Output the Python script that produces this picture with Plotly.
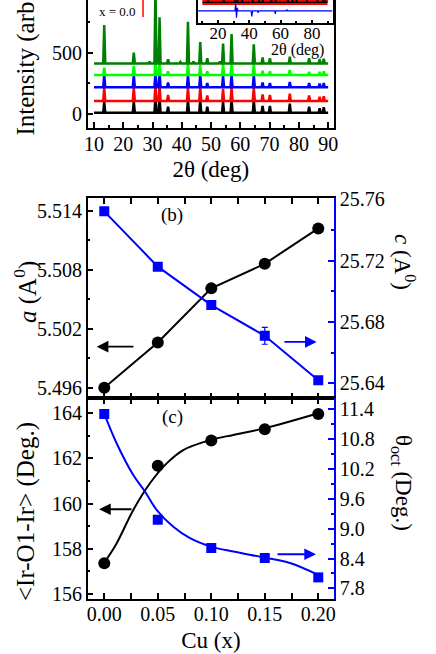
import plotly.graph_objects as go

# %% XRD data
peak_pos = [13.5, 23.6, 29.0, 31.0, 32.4, 35.3, 39.5, 42.1, 44.0, 46.3, 48.7,
            53.0, 54.1, 57.0, 64.6, 67.6, 70.1, 76.9, 83.5, 87.1, 88.5]
h_x000 = [89, 89, 0, 125, 118, 50, 0, 100, 0, 100, 50, 0, 89, 105, 100, 56, 56, 75, 50, 37, 45]
h_x005 = [112, 112, 0, 130, 130, 50, 0, 112, 0, 112, 45, 0, 100, 112, 112, 55, 50, 60, 45, 35, 40]
h_x010 = [105, 100, 0, 120, 120, 40, 0, 105, 0, 100, 35, 0, 95, 105, 100, 40, 35, 45, 35, 30, 35]
h_x015 = [60, 75, 0, 110, 100, 30, 0, 100, 0, 80, 30, 0, 90, 100, 90, 35, 30, 40, 25, 25, 30]
h_x020 = [313, 87, 15, 620, 376, 33, 12, 340, 15, 174, 41, 15, 163, 240, 155, 49, 41, 54, 41, 33, 38]
baselines = [11, 106, 218, 319, 414]
xrd_colors = ['black', '#ff0000', '#0000ff', '#00ff00', '#008000']

# inset (Rietveld fit of x = 0.0): difference curve
diff_x = [7, 30.8, 31.3, 31.8, 32.3, 32.8, 41.1, 41.6, 42.1, 45.3, 45.7, 46.1,
          56.2, 56.6, 57.0, 63.6, 64.0, 64.4, 93]
diff_y = [0, 0, 7.5, -7, 3, 0, 0, -5.7, 0, 0, -2, 0, 0, -3, 0, 0, 1.5, 0, 0]

# %% lattice parameters / angles vs Cu
cu = [0.0, 0.05, 0.10, 0.15, 0.20]
a_lat = [5.4960, 5.5006, 5.5061, 5.5086, 5.5122]
c_lat = [25.752, 25.716, 25.691, 25.671, 25.642]
c_err = [0, 0, 0, 0.0055, 0]
ir_o_ir = [157.36, 161.68, 162.79, 163.29, 163.97]
theta_oct = [11.31, 9.18, 8.61, 8.41, 8.02]

# fitted curves in panel (c)
fit_x1 = [0.0, 0.0115, 0.0271, 0.0427, 0.0583, 0.0738, 0.0997, 0.1206, 0.1495, 0.2]
fit_ang = [157.39, 158.24, 159.72, 160.90, 161.78, 162.37, 162.82, 163.04, 163.33, 164.0]
fit_x2 = [0.0, 0.0115, 0.0271, 0.0380, 0.0489, 0.0645, 0.0801, 0.0997, 0.1206, 0.1495, 0.1735, 0.2]
fit_th = [11.31, 10.72, 10.08, 9.75, 9.38, 9.04, 8.81, 8.64, 8.54, 8.42, 8.31, 8.07]

FONT = 'Liberation Serif'


def stick_pattern(base, heights, scale=1.0, w=0.35):
    xs, ys = [10.0], [base]
    for p, h in zip(peak_pos, heights):
        if h == 0:
            continue
        xs += [p - w, p, p + w]
        ys += [base, base + h * scale, base]
    xs.append(90.0)
    ys.append(base)
    return xs, ys


fig = go.Figure()

# %% XRD patterns
for base, hts, col in zip(baselines, [h_x000, h_x005, h_x010, h_x015, h_x020], xrd_colors):
    xs, ys = stick_pattern(base, hts)
    fig.add_trace(go.Scatter(x=xs, y=ys, mode='lines', line=dict(color=col, width=2.5),
                             xaxis='x', yaxis='y', showlegend=False))

# inset
xs, ys = stick_pattern(8.5, h_x000, scale=0.2)
fig.add_trace(go.Scatter(x=xs, y=ys, mode='lines', line=dict(color='#ff0000', width=5),
                         xaxis='x2', yaxis='y2', showlegend=False))
fig.add_trace(go.Scatter(x=xs, y=ys, mode='lines', line=dict(color='black', width=1.2),
                         xaxis='x2', yaxis='y2', showlegend=False))
fig.add_trace(go.Scatter(x=diff_x, y=diff_y, mode='lines', line=dict(color='#0000ff', width=1.2),
                         xaxis='x2', yaxis='y2', showlegend=False))

# %% panel (b)
fig.add_trace(go.Scatter(x=cu, y=a_lat, mode='lines+markers',
                         line=dict(color='black', width=2),
                         marker=dict(symbol='circle', size=12, color='black'),
                         xaxis='x3', yaxis='y3', showlegend=False))
fig.add_trace(go.Scatter(x=cu, y=c_lat, mode='lines+markers',
                         line=dict(color='#0000ff', width=2),
                         marker=dict(symbol='square', size=10, color='#0000ff'),
                         error_y=dict(type='data', array=c_err, color='#0000ff', thickness=1.2, width=3),
                         xaxis='x3', yaxis='y4', showlegend=False))

# %% panel (c)
fig.add_trace(go.Scatter(x=fit_x1, y=fit_ang, mode='lines', line=dict(color='black', width=2, shape='spline'),
                         xaxis='x4', yaxis='y5', showlegend=False))
fig.add_trace(go.Scatter(x=cu, y=ir_o_ir, mode='markers',
                         marker=dict(symbol='circle', size=12, color='black'),
                         xaxis='x4', yaxis='y5', showlegend=False))
fig.add_trace(go.Scatter(x=fit_x2, y=fit_th, mode='lines', line=dict(color='#0000ff', width=2, shape='spline'),
                         xaxis='x4', yaxis='y6', showlegend=False))
fig.add_trace(go.Scatter(x=cu, y=theta_oct, mode='markers',
                         marker=dict(symbol='square', size=10, color='#0000ff'),
                         xaxis='x4', yaxis='y6', showlegend=False))

# %% axes
xdom = [87.7 / 436, 334 / 436]
tickfont = dict(family=FONT, size=20, color='black')
common = dict(showgrid=False, zeroline=False, ticks='inside', ticklen=6, tickwidth=1.5, automargin=False,
              showline=True, linewidth=1.5, linecolor='black', tickcolor='black', tickfont=tickfont)

fig.update_layout(
    template='none',
    xaxis=dict(common, domain=xdom, anchor='y', range=[7.85, 92], tick0=10, dtick=10,
               ticklabelstandoff=-3,
               minor=dict(dtick=5, ticks='inside', ticklen=3, tickcolor='black'),
               title=dict(text='2θ (deg)', font=dict(family=FONT, size=23), standoff=7)),
    yaxis=dict(common, domain=[1 - 128 / 654, 1], anchor='x', range=[-114, 932],
               tickvals=[0, 500], mirror=True,
               minor=dict(tickvals=[250, 750], ticks='inside', ticklen=3, tickcolor='black')),
    xaxis2=dict(common, domain=[198 / 436, 333 / 436], anchor='y2', range=[7.2, 93.5],
                tick0=20, dtick=20, ticklen=3, ticklabelstandoff=-6,
                tickfont=dict(family=FONT, size=17, color='black'),
                minor=dict(dtick=10, ticks='inside', ticklen=2, tickcolor='black')),
    yaxis2=dict(common, domain=[1 - 22.7 / 654, 1], anchor='x2', range=[-12, 11],
                showticklabels=False, ticks='', mirror=True),
    xaxis3=dict(common, domain=xdom, anchor='y3', range=[-0.0155, 0.2147], tick0=0, dtick=0.05,
                showticklabels=False, mirror='ticks',
                minor=dict(dtick=0.025, ticks='inside', ticklen=6, tickcolor='black')),
    yaxis3=dict(common, domain=[1 - 398.3 / 654, 1 - 198.3 / 654], anchor='x3',
                range=[5.49492, 5.51526], tick0=5.496, dtick=0.006, tickformat='.3f',
                minor=dict(dtick=0.003, ticks='inside', ticklen=3, tickcolor='black')),
    yaxis4=dict(common, overlaying='y3', side='right', anchor='x3', range=[25.6303, 25.7605],
                tick0=25.64, dtick=0.04, tickformat='.2f', linecolor='#0000ff', tickcolor='#0000ff',
                minor=dict(dtick=0.02, ticks='inside', ticklen=3, tickcolor='#0000ff')),
    xaxis4=dict(common, domain=xdom, anchor='y5', range=[-0.0155, 0.2147], tick0=0, dtick=0.05,
                tickformat='.2f', mirror='ticks', ticklabelstandoff=-4,
                minor=dict(dtick=0.025, ticks='inside', ticklen=6, tickcolor='black'),
                title=dict(text='Cu (x)', font=dict(family=FONT, size=23), standoff=8)),
    yaxis5=dict(common, domain=[1 - 599 / 654, 1 - 398.3 / 654], anchor='x4',
                range=[155.78, 164.66], tick0=156, dtick=2,
                minor=dict(dtick=1, ticks='inside', ticklen=3, tickcolor='black')),
    yaxis6=dict(common, overlaying='y5', side='right', anchor='x4', range=[7.585, 11.625],
                tick0=7.8, dtick=0.6, tickformat='.1f', linecolor='#0000ff', tickcolor='#0000ff',
                minor=dict(dtick=0.3, ticks='inside', ticklen=3, tickcolor='#0000ff')),
    width=436, height=654, margin=dict(l=0, r=0, t=0, b=0, pad=0),
    paper_bgcolor='white', plot_bgcolor='white',
    font=dict(family=FONT, color='black'),
)

# %% text, arrows
ttl = dict(family=FONT, size=25, color='black')
fig.add_annotation(text='Intensity (arb. units)', textangle=-90, x=25 / 436, y=1 - 138 / 654,
                   xref='paper', yref='paper', xanchor='center', yanchor='bottom', showarrow=False, font=ttl)
fig.add_annotation(text='<i>a</i> (A<sup>0</sup>)', textangle=-90, x=25 / 436, y=1 - 292 / 654,
                   xref='paper', yref='paper', xanchor='center', yanchor='middle', showarrow=False, font=ttl)
fig.add_annotation(text='<i>c</i> (A<sup>0</sup>)', textangle=90, x=405 / 436, y=1 - 262 / 654,
                   xref='paper', yref='paper', xanchor='center', yanchor='middle', showarrow=False,
                   font=dict(family=FONT, size=23, color='black'))
fig.add_annotation(text='&lt;Ir-O1-Ir&gt; (Deg.)', textangle=-90, x=26 / 436, y=1 - 512 / 654,
                   xref='paper', yref='paper', xanchor='center', yanchor='middle', showarrow=False, font=ttl)
fig.add_annotation(text='θ<sub>oct</sub> (Deg.)', textangle=90, x=402 / 436, y=1 - 483 / 654,
                   xref='paper', yref='paper', xanchor='center', yanchor='middle', showarrow=False,
                   font=dict(family=FONT, size=23, color='black'))
fig.add_annotation(text='2θ (deg)', x=297 / 436, y=1 - 50 / 654, xref='paper', yref='paper',
                   xanchor='center', yanchor='middle', showarrow=False, font=dict(family=FONT, size=16, color='black'))
fig.add_annotation(text='x = 0.0', x=97 / 436, y=1 - 11 / 654, xref='paper', yref='paper',
                   xanchor='left', yanchor='middle', showarrow=False, font=dict(family=FONT, size=13, color='black'))
fig.add_annotation(text='(b)', x=172 / 436, y=1 - 215 / 654, xref='paper', yref='paper',
                   xanchor='center', yanchor='middle', showarrow=False, font=dict(family=FONT, size=19, color='black'))
fig.add_annotation(text='(c)', x=172 / 436, y=1 - 417 / 654, xref='paper', yref='paper',
                   xanchor='center', yanchor='middle', showarrow=False, font=dict(family=FONT, size=19, color='black'))
fig.add_shape(type='line', x0=143 / 436, x1=143 / 436, y0=1 - 17 / 654, y1=1,
              xref='paper', yref='paper', line=dict(color='#ff0000', width=1.5))

arrow = dict(showarrow=True, arrowhead=2, arrowsize=1.3, arrowwidth=1.8, text='')
fig.add_annotation(arrow, x=-0.0071, y=5.50017, ax=0.0287, ay=5.50017, xref='x3', yref='y3',
                   axref='x3', ayref='y3', arrowcolor='black')
fig.add_annotation(arrow, x=0.1985, y=25.667, ax=0.167, ay=25.667, xref='x3', yref='y4',
                   axref='x3', ayref='y4', arrowcolor='#0000ff')
fig.add_annotation(arrow, x=-0.0049, y=159.75, ax=0.0268, ay=159.75, xref='x4', yref='y5',
                   axref='x4', ayref='y5', arrowcolor='black')
fig.add_annotation(arrow, x=0.1979, y=8.486, ax=0.1605, ay=8.486, xref='x4', yref='y6',
                   axref='x4', ayref='y6', arrowcolor='#0000ff')

# page body has a default 8px margin; drop it so the figure fills the window
fig.write_html("out.html", config={'displayModeBar': False},
               post_script="document.body.style.margin='0';")
